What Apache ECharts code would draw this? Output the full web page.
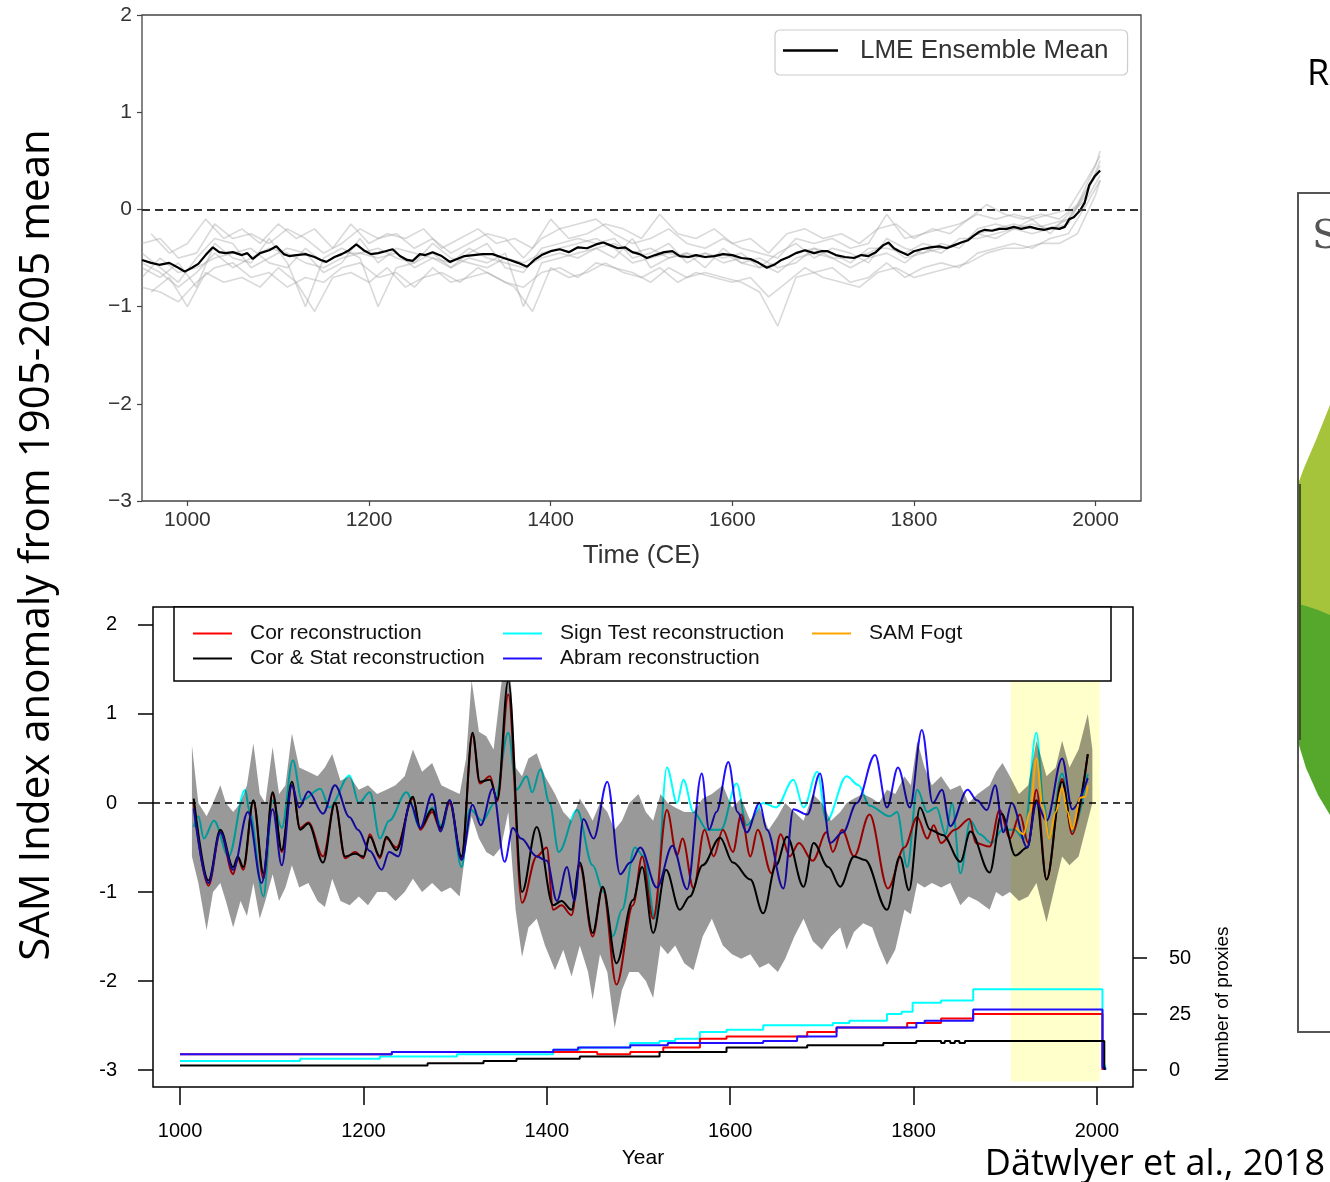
<!DOCTYPE html>
<html><head><meta charset="utf-8">
<script src="https://cdn.jsdelivr.net/npm/echarts@6.0.0/dist/echarts.min.js"></script>
<style>html,body{margin:0;padding:0;background:#fff;}#c{width:1330px;height:1182px;}</style>
</head><body><div id="c"></div>
<script>
// ---------- TOP PANEL: LME ----------
const meanYears = [950,960,969,980,990,997,1005,1012,1020,1028,1035,1042,1050,1060,1066,1072,1080,1090,1098,1106,1112,1120,1130,1140,1147,1153,1162,1170,1178,1186,1194,1202,1210,1218,1226,1234,1242,1248,1256,1262,1270,1280,1289,1297,1305,1315,1325,1336,1345,1355,1364,1374,1382,1390,1400,1410,1420,1430,1440,1450,1458,1466,1474,1482,1490,1498,1506,1515,1525,1534,1542,1552,1560,1570,1580,1590,1600,1610,1620,1629,1638,1646,1654,1662,1670,1680,1690,1698,1705,1714,1724,1734,1742,1750,1758,1766,1772,1778,1784,1793,1800,1808,1818,1828,1836,1844,1852,1859,1866,1872,1878,1886,1894,1902,1910,1918,1928,1936,1944,1952,1960,1966,1971,1976,1983,1988,1993,1999,2005];
const meanVals = [-0.52,-0.55,-0.57,-0.55,-0.60,-0.64,-0.60,-0.56,-0.47,-0.39,-0.44,-0.45,-0.44,-0.47,-0.45,-0.51,-0.45,-0.42,-0.38,-0.46,-0.48,-0.47,-0.46,-0.49,-0.52,-0.54,-0.49,-0.46,-0.42,-0.36,-0.42,-0.46,-0.45,-0.43,-0.41,-0.48,-0.52,-0.53,-0.46,-0.47,-0.44,-0.48,-0.54,-0.51,-0.48,-0.47,-0.46,-0.46,-0.49,-0.52,-0.55,-0.59,-0.52,-0.47,-0.43,-0.41,-0.44,-0.39,-0.40,-0.36,-0.34,-0.37,-0.40,-0.39,-0.44,-0.46,-0.50,-0.47,-0.44,-0.43,-0.48,-0.49,-0.47,-0.49,-0.48,-0.46,-0.47,-0.50,-0.51,-0.55,-0.60,-0.57,-0.52,-0.49,-0.45,-0.42,-0.45,-0.43,-0.43,-0.47,-0.49,-0.50,-0.47,-0.48,-0.44,-0.37,-0.34,-0.40,-0.43,-0.47,-0.43,-0.41,-0.39,-0.38,-0.40,-0.37,-0.34,-0.32,-0.27,-0.23,-0.21,-0.22,-0.20,-0.20,-0.18,-0.20,-0.18,-0.20,-0.21,-0.19,-0.20,-0.18,-0.10,-0.08,-0.01,0.07,0.25,0.34,0.40];

const memberYears = [950,970,990,1010,1030,1050,1070,1090,1110,1130,1150,1170,1190,1210,1230,1250,1270,1290,1310,1330,1350,1370,1390,1410,1430,1450,1470,1490,1510,1530,1550,1570,1590,1610,1630,1650,1670,1690,1710,1730,1750,1770,1790,1810,1830,1850,1870,1890,1910,1930,1950,1970,1990,2005];
const member1 = [-0.35,-0.30,-0.50,-0.45,-0.15,-0.30,-0.25,-0.35,-0.20,-0.30,-0.45,-0.35,-0.20,-0.30,-0.25,-0.40,-0.30,-0.45,-0.35,-0.25,-0.30,-0.50,-0.30,-0.20,-0.15,-0.10,-0.25,-0.35,-0.30,-0.20,-0.35,-0.40,-0.30,-0.40,-0.45,-0.50,-0.30,-0.35,-0.30,-0.40,-0.35,-0.05,-0.30,-0.25,-0.20,-0.15,-0.05,-0.10,-0.05,-0.10,-0.05,0.00,0.30,0.55];
const member2 = [-0.80,-0.85,-0.95,-0.75,-0.60,-0.55,-0.70,-0.65,-0.80,-0.70,-0.75,-0.60,-0.55,-0.70,-0.65,-0.80,-0.60,-0.75,-0.70,-0.65,-0.75,-0.80,-0.65,-0.60,-0.70,-0.55,-0.60,-0.65,-0.75,-0.60,-0.70,-0.65,-0.70,-0.75,-0.85,-1.20,-0.70,-0.65,-0.60,-0.75,-0.70,-0.55,-0.70,-0.60,-0.55,-0.60,-0.45,-0.40,-0.35,-0.40,-0.30,-0.25,0.05,0.30];
const member3 = [-0.60,-0.70,-0.55,-0.80,-0.35,-0.50,-0.55,-0.30,-0.55,-1.00,-0.50,-0.40,-0.50,-1.00,-0.60,-0.55,-0.45,-0.60,-0.50,-0.55,-0.45,-1.00,-0.55,-0.50,-0.45,-0.40,-0.50,-0.30,-0.60,-0.50,-0.45,-0.60,-0.40,-0.55,-0.50,-0.60,-0.55,-0.40,-0.50,-0.60,-0.50,-0.45,-0.55,-0.40,-0.45,-0.30,-0.30,-0.25,-0.20,-0.25,-0.20,-0.15,0.20,0.45];
const member4 = [-0.45,-0.60,-0.75,-0.50,-0.30,-0.35,-0.60,-0.50,-0.40,-0.45,-0.65,-0.55,-0.30,-0.55,-0.40,-0.45,-0.50,-0.60,-0.45,-0.35,-0.60,-0.65,-0.40,-0.35,-0.30,-0.35,-0.30,-0.50,-0.45,-0.35,-0.55,-0.45,-0.50,-0.45,-0.60,-0.45,-0.35,-0.50,-0.40,-0.45,-0.55,-0.30,-0.40,-0.45,-0.35,-0.40,-0.20,-0.15,-0.20,-0.10,-0.25,-0.05,0.10,0.35];
const member5 = [-0.70,-0.50,-0.65,-0.60,-0.50,-0.45,-0.40,-0.55,-0.60,-0.40,-0.55,-0.45,-0.45,-0.40,-0.50,-0.55,-0.35,-0.50,-0.55,-0.60,-0.50,-0.55,-0.45,-0.40,-0.35,-0.30,-0.40,-0.55,-0.50,-0.45,-0.50,-0.45,-0.55,-0.50,-0.55,-0.65,-0.50,-0.45,-0.50,-0.50,-0.45,-0.35,-0.50,-0.45,-0.40,-0.35,-0.25,-0.20,-0.15,-0.20,-0.15,-0.10,0.15,0.50];
const member6 = [-0.55,-0.65,-0.80,-0.65,-0.45,-0.60,-0.50,-0.40,-0.45,-0.55,-0.60,-0.50,-0.45,-0.50,-0.45,-0.60,-0.50,-0.55,-0.40,-0.50,-0.55,-0.60,-0.50,-0.45,-0.50,-0.40,-0.35,-0.45,-0.40,-0.50,-0.45,-0.50,-0.45,-0.55,-0.60,-0.55,-0.45,-0.40,-0.45,-0.55,-0.40,-0.40,-0.45,-0.35,-0.40,-0.35,-0.25,-0.30,-0.20,-0.15,-0.20,-0.10,0.20,0.40];
const memberYearsB = [960,980,1000,1020,1040,1060,1080,1100,1120,1140,1160,1180,1200,1220,1240,1260,1280,1300,1320,1340,1360,1380,1400,1420,1440,1460,1480,1500,1520,1540,1560,1580,1600,1620,1640,1660,1680,1700,1720,1740,1760,1780,1800,1820,1840,1860,1880,1900,1920,1940,1960,1980,2000,2005];
const member7 = [-0.25,-0.45,-0.35,-0.10,-0.30,-0.20,-0.35,-0.15,-0.30,-0.20,-0.40,-0.15,-0.35,-0.25,-0.30,-0.20,-0.40,-0.30,-0.20,-0.35,-0.30,-0.40,-0.10,-0.30,-0.25,-0.15,-0.20,-0.30,-0.05,-0.25,-0.30,-0.20,-0.35,-0.30,-0.45,-0.25,-0.20,-0.30,-0.25,-0.35,-0.20,-0.15,-0.30,-0.20,-0.25,-0.10,0.05,-0.05,-0.10,-0.05,-0.10,0.05,0.45,0.60];
const member8 = [-0.85,-0.70,-1.00,-0.65,-0.75,-0.70,-0.80,-0.60,-0.75,-1.05,-0.70,-0.65,-0.75,-0.60,-0.80,-0.70,-0.65,-0.75,-0.60,-0.70,-0.80,-1.05,-0.60,-0.70,-0.65,-0.55,-0.65,-0.70,-0.60,-0.75,-0.65,-0.70,-0.75,-0.70,-0.90,-0.75,-0.60,-0.70,-0.75,-0.80,-0.65,-0.60,-0.70,-0.65,-0.60,-0.55,-0.45,-0.40,-0.40,-0.35,-0.35,-0.25,0.15,0.30];

const topXTicks = [1000,1200,1400,1600,1800,2000];

// ---------- BOTTOM PANEL: reconstructions ----------
const corStatYears = [1015,1031,1044,1058,1063,1069,1080,1091,1101,1111,1122,1131,1140,1156,1169,1180,1191,1200,1207,1218,1225,1236,1254,1262,1275,1284,1294,1307,1319,1327,1338,1346,1358,1373,1389,1407,1416,1427,1436,1450,1461,1476,1494,1504,1516,1530,1545,1556,1570,1589,1603,1622,1636,1650,1662,1680,1691,1707,1720,1735,1747,1771,1785,1795,1807,1818,1832,1851,1862,1883,1896,1911,1924,1934,1945,1962,1973,1990];
const corStatVals = [0.05,-0.87,-0.30,-0.72,-0.60,-0.72,0.03,-0.79,0.12,-0.53,0.24,-0.30,-0.23,-0.67,0.00,-0.60,-0.57,-0.60,-0.38,-0.60,-0.38,-0.53,0.07,-0.28,-0.07,-0.28,0.03,-0.60,0.79,0.24,0.26,0.04,1.38,-1.00,-0.27,-1.15,-1.10,-1.20,-0.67,-1.46,-0.94,-1.80,-1.09,-0.72,-1.46,-0.75,-1.20,-1.05,-0.70,-0.39,-0.67,-0.86,-1.24,-0.70,-0.38,-0.94,-0.45,-0.72,-0.94,-0.60,-0.64,-1.20,-0.60,-0.98,-0.05,-0.30,-0.36,-0.66,-0.32,-0.78,-0.12,-0.59,-0.50,0.03,-0.86,0.24,-0.30,0.55];

const corYears = [1015,1031,1044,1058,1063,1069,1080,1091,1101,1111,1122,1131,1140,1156,1169,1180,1191,1200,1207,1218,1225,1236,1254,1262,1275,1284,1294,1307,1319,1327,1338,1346,1358,1373,1389,1400,1407,1416,1427,1436,1450,1461,1476,1494,1504,1516,1531,1542,1548,1560,1572,1582,1592,1603,1612,1622,1630,1645,1655,1665,1675,1690,1705,1712,1722,1735,1752,1772,1790,1804,1815,1822,1830,1845,1861,1868,1883,1894,1905,1916,1925,1934,1945,1962,1973,1990];
const corVals = [0.00,-0.93,-0.33,-0.80,-0.62,-0.75,0.02,-0.85,0.10,-0.55,0.20,-0.28,-0.22,-0.60,0.00,-0.62,-0.55,-0.62,-0.35,-0.62,-0.40,-0.50,0.05,-0.30,-0.10,-0.30,0.00,-0.62,0.76,0.22,0.30,0.02,1.22,-1.12,-0.60,-0.50,-1.20,-1.15,-1.26,-0.70,-1.50,-0.95,-2.04,-1.15,-0.60,-1.30,-0.08,-0.59,-0.40,-0.96,-0.30,-0.60,-0.30,-0.55,-0.13,-0.60,-0.30,-0.79,-0.35,-0.60,-0.45,-0.65,-0.33,-0.55,-0.30,-0.60,-0.13,-0.96,-0.50,-0.16,-0.40,-0.25,-0.45,-0.30,-0.18,-0.45,-0.49,-0.08,-0.40,-0.13,-0.45,0.15,-0.86,0.27,-0.35,0.55];

const signYears = [1015,1020,1026,1037,1053,1071,1076,1091,1101,1111,1123,1133,1153,1163,1185,1195,1207,1218,1228,1247,1262,1275,1286,1294,1307,1316,1330,1343,1358,1367,1378,1384,1393,1403,1413,1433,1450,1462,1472,1482,1496,1506,1518,1531,1542,1549,1560,1575,1590,1607,1618,1636,1650,1669,1680,1695,1705,1727,1740,1752,1774,1782,1793,1804,1815,1825,1835,1842,1851,1862,1872,1885,1897,1910,1920,1934,1942,1948,1962,1973,1990];
const signVals = [-0.27,-0.15,-0.40,-0.20,-0.60,0.15,-0.10,-1.05,0.03,-0.28,0.48,0.03,0.16,-0.05,0.31,0.00,0.12,-0.40,-0.20,0.12,-0.28,-0.05,-0.28,0.03,-0.72,-0.07,-0.20,0.00,0.79,0.15,0.30,0.12,0.38,0.00,-0.55,-0.08,-0.70,-1.00,-1.50,-1.20,-0.50,-0.60,-1.30,0.40,0.00,0.26,-0.10,-0.30,-0.30,0.22,-0.25,0.00,-0.05,0.26,-0.05,0.35,-0.20,0.30,0.20,-0.03,-0.15,-0.10,-0.72,0.15,-0.10,-0.05,-0.35,0.00,-0.79,-0.20,-0.35,-0.45,-0.30,-0.30,-0.40,0.79,0.00,-0.40,0.33,-0.32,0.33];

const abramYears = [1015,1031,1044,1058,1074,1089,1101,1111,1122,1130,1140,1156,1169,1185,1194,1207,1220,1228,1238,1251,1262,1275,1284,1294,1307,1319,1328,1341,1354,1363,1372,1389,1400,1411,1422,1430,1440,1451,1466,1480,1491,1502,1520,1537,1553,1569,1577,1585,1598,1608,1618,1632,1640,1658,1669,1684,1698,1709,1723,1738,1758,1771,1783,1796,1809,1821,1831,1840,1859,1869,1880,1889,1898,1907,1924,1934,1945,1962,1973,1990];
const abramVals = [-0.06,-0.90,-0.33,-0.75,-0.10,-0.90,-0.07,-0.70,0.20,-0.05,0.13,-0.12,0.20,-0.16,-0.30,-0.54,-0.75,-0.55,-0.60,0.00,-0.28,0.10,-0.32,0.03,-0.64,-0.02,-0.25,0.16,-0.66,-0.28,-0.40,-0.60,-0.65,-1.10,-0.72,-1.10,-0.18,-0.40,0.24,-0.80,-0.67,-0.50,-0.95,-0.48,-0.97,0.33,-0.30,-0.10,0.46,-0.10,-0.33,0.00,-0.30,-0.96,-0.07,-0.13,0.33,-0.45,-0.33,0.00,0.54,-0.05,0.40,-0.05,0.82,0.00,0.15,-0.26,0.15,0.03,-0.08,0.20,-0.33,0.00,-0.50,0.00,-0.20,0.50,-0.07,0.28];

const fogtYears = [1912,1920,1927,1934,1941,1948,1955,1962,1968,1973,1982,1987,1990];
const fogtVals = [-0.28,-0.35,-0.10,0.50,-0.05,-0.40,-0.10,0.17,-0.10,-0.30,0.06,0.07,0.20];

// uncertainty envelope (grey shading)
const bandYears = [1013,1020,1029,1036,1044,1050,1058,1066,1073,1080,1087,1093,1101,1108,1115,1122,1130,1140,1150,1158,1166,1175,1185,1195,1205,1215,1225,1235,1245,1254,1264,1275,1285,1295,1305,1312,1318,1326,1334,1342,1350,1358,1366,1373,1380,1389,1398,1409,1418,1427,1436,1445,1450,1458,1466,1474,1482,1490,1500,1508,1516,1524,1532,1540,1550,1560,1570,1580,1592,1602,1612,1622,1632,1642,1652,1660,1670,1680,1690,1700,1710,1720,1727,1735,1745,1755,1762,1771,1780,1790,1797,1804,1812,1820,1830,1840,1851,1860,1870,1883,1890,1897,1905,1915,1925,1934,1945,1955,1962,1970,1980,1990,1995];
const bandUpper = [0.65,0.00,-0.15,0.00,0.20,0.00,-0.10,0.00,0.20,0.67,0.10,0.00,0.63,0.10,0.20,0.78,0.40,0.35,0.30,0.40,0.55,0.25,0.30,0.15,0.20,0.10,0.15,0.20,0.30,0.60,0.35,0.45,0.20,0.15,0.10,0.50,1.38,0.80,0.75,0.60,1.30,1.90,0.40,0.30,0.50,0.56,0.30,0.10,-0.10,-0.20,0.05,-0.10,-0.20,0.00,-0.10,-0.30,-0.20,0.00,0.10,-0.10,-0.20,0.10,0.00,-0.05,-0.10,-0.10,0.05,0.10,0.20,-0.05,0.05,-0.20,-0.05,-0.30,-0.15,0.00,-0.10,-0.20,0.10,0.00,-0.20,-0.10,0.00,0.05,0.10,0.05,0.00,0.15,0.10,0.30,0.20,0.70,0.40,0.20,0.30,0.15,0.20,0.00,0.10,0.20,0.35,0.45,0.30,0.10,0.20,0.70,0.30,0.40,0.70,0.40,0.60,1.00,0.60];
const bandLower = [-0.60,-0.90,-1.43,-1.00,-0.90,-1.10,-1.40,-1.10,-1.27,-0.90,-1.30,-1.10,-0.80,-1.10,-0.95,-0.70,-0.95,-0.90,-1.10,-1.17,-0.85,-1.10,-1.15,-1.05,-1.15,-1.00,-1.00,-1.10,-1.00,-0.85,-1.00,-0.90,-1.00,-0.95,-1.05,-0.50,-0.15,-0.40,-0.55,-0.60,-0.50,-0.10,-1.20,-1.73,-1.40,-1.30,-1.60,-1.88,-1.65,-1.95,-1.60,-1.90,-2.21,-1.70,-1.90,-2.53,-2.10,-1.90,-1.90,-2.00,-2.19,-1.60,-1.70,-1.60,-1.80,-1.88,-1.50,-1.30,-1.60,-1.70,-1.75,-1.70,-1.85,-1.80,-1.90,-1.75,-1.50,-1.30,-1.55,-1.65,-1.50,-1.40,-1.65,-1.45,-1.35,-1.40,-1.60,-1.82,-1.65,-1.20,-1.25,-0.90,-0.95,-0.90,-0.95,-0.90,-1.15,-1.05,-1.10,-1.20,-1.00,-1.05,-1.00,-1.10,-1.05,-0.90,-1.34,-0.90,-0.60,-0.70,-0.60,-0.20,0.00];

// number of proxies (step series)
const nCorStatYears = [1000,1270,1331,1367,1436,1502,1523,1596,1684,1767,1803,1830,1834,1840,1845,1850,1856,1862,2005,2008];
const nCorStatVals = [2,3,4,5,6,6,8,10,11,12,13,12,13,12,13,12,13,13,13,0];
const nCorYears = [1000,1231,1455,1491,1527,1567,1596,1684,1716,1793,1830,1865,2006];
const nCorVals = [7,8,7,8,10,14,15,17,19,21,23,25,0];
const nSignYears = [1000,1131,1218,1302,1407,1436,1491,1523,1540,1567,1596,1636,1712,1730,1771,1787,1799,1830,1865,2006,2009];
const nSignVals = [4,5,6,7,9,10,12,13,14,17,18,20,21,22,25,26,30,31,36,2,0];
const nAbramYears = [1000,1231,1407,1434,1491,1532,1636,1673,1716,1803,1812,1865,2006,2009];
const nAbramVals = [7,8,9,10,11,12,13,15,19,21,22,27,1,0];

const botXTicks = [1000,1200,1400,1600,1800,2000];
const botYTicks = [-3,-2,-1,0,1,2];
const calibration = [1906, 2003];

// ---------- helpers ----------
const zip = (xs, ys) => xs.map((x, i) => [x, ys[i]]);
const ARIAL = "'Liberation Sans', Arial, sans-serif";
const plain = v => String(v);

const chart = echarts.init(document.getElementById('c'), null, {renderer: 'canvas'});

const memberSets = [[memberYears, member1], [memberYears, member2], [memberYears, member3], [memberYears, member4],
  [memberYears, member5], [memberYears, member6], [memberYearsB, member7], [memberYearsB, member8]];
const memberSeries = memberSets.map((m, k) => ({
  name: 'LME member ' + (k + 1), type: 'line', xAxisIndex: 0, yAxisIndex: 0,
  data: zip(m[0], m[1]), showSymbol: false, silent: true, z: 1,
  lineStyle: {color: 'rgba(165,165,165,0.42)', width: 1.6}
}));

function recon(name, years, vals, color, z) {
  return {
    name, type: 'line', xAxisIndex: 1, yAxisIndex: 1, data: zip(years, vals),
    showSymbol: false, smooth: 0.35, smoothMonotone: 'x', color, z,
    lineStyle: {color, width: 2}
  };
}
function prox(name, years, vals, color) {
  return {
    name, type: 'line', xAxisIndex: 2, yAxisIndex: 2, data: zip(years, vals),
    step: 'end', showSymbol: false, silent: true, color, z: 2,
    lineStyle: {color, width: 2}
  };
}

const option = {
  animation: false,
  backgroundColor: '#fff',
  grid: [
    {left: 142, top: 15, width: 999, height: 486, show: true, borderColor: '#444', borderWidth: 1.3, backgroundColor: 'transparent'},
    {left: 153, top: 607, width: 980, height: 480, show: true, borderColor: '#000', borderWidth: 1.5, backgroundColor: 'transparent'},
    {left: 153, top: 958, width: 980, height: 112, show: false}
  ],
  xAxis: [
    {gridIndex: 0, type: 'value', min: 950, max: 2050, splitLine: {show: false},
     axisLine: {show: false, onZero: false},
     axisTick: {show: true, customValues: topXTicks, length: 5, lineStyle: {color: '#444', width: 1.2}},
     axisLabel: {customValues: topXTicks, formatter: plain, fontSize: 21, color: '#333', margin: 9, fontFamily: ARIAL},
     name: 'Time (CE)', nameLocation: 'middle', nameGap: 42,
     nameTextStyle: {fontSize: 26, color: '#333', fontFamily: ARIAL}},
    {gridIndex: 1, type: 'value', min: 970.55, max: 2039.3, splitLine: {show: false},
     axisLine: {show: false, onZero: false},
     axisTick: {show: true, customValues: botXTicks, length: 18, lineStyle: {color: '#000', width: 1.5}},
     axisLabel: {customValues: botXTicks, formatter: plain, fontSize: 20, color: '#000', margin: 34, fontFamily: ARIAL},
     name: 'Year', nameLocation: 'middle', nameGap: 61,
     nameTextStyle: {fontSize: 21, color: '#000', fontFamily: ARIAL}},
    {gridIndex: 2, type: 'value', min: 970.55, max: 2039.3, show: false, axisLine: {onZero: false}}
  ],
  yAxis: [
    {gridIndex: 0, type: 'value', min: -3, max: 2, interval: 1, splitLine: {show: false},
     axisLine: {show: false, onZero: false},
     axisTick: {show: true, length: 5, lineStyle: {color: '#444', width: 1.2}},
     axisLabel: {fontSize: 21, color: '#333', margin: 10, fontFamily: ARIAL,
       formatter: v => (v < 0 ? '\u2212' + Math.abs(v) : String(v))}},
    {gridIndex: 1, type: 'value', min: -3.191, max: 2.202, splitLine: {show: false},
     axisLine: {show: false, onZero: false},
     axisTick: {show: true, customValues: botYTicks, length: 15, lineStyle: {color: '#000', width: 1.5}},
     axisLabel: {customValues: botYTicks, formatter: plain, fontSize: 20, color: '#000', margin: 36, fontFamily: ARIAL}},
    {gridIndex: 2, type: 'value', min: 0, max: 50, interval: 25, position: 'right', splitLine: {show: false},
     axisLine: {show: false, onZero: false},
     axisTick: {show: true, length: 14, lineStyle: {color: '#000', width: 1.5}},
     axisLabel: {fontSize: 20, color: '#000', margin: 36, fontFamily: ARIAL},
     name: 'Number of proxies', nameLocation: 'middle', nameRotate: 90, nameGap: 80,
     nameTextStyle: {fontSize: 19, color: '#000', fontFamily: "'Liberation Sans Narrow', 'Liberation Sans', Arial", padding: [0, 0, 0, 20]}}
  ],
  legend: [
    {data: ['LME Ensemble Mean'], left: 775, top: 30, selectedMode: false, icon: 'rect',
     itemWidth: 55, itemHeight: 2.5, padding: [6, 19, 10, 8], z: 20,
     backgroundColor: '#fff', borderColor: '#ccc', borderWidth: 1.2, borderRadius: 5,
     textStyle: {fontSize: 26, color: '#333', fontFamily: ARIAL, lineHeight: 29, padding: [0, 0, 0, 17]}},
    {data: ['Cor reconstruction', 'Cor & Stat reconstruction'], left: 193, top: 623, orient: 'vertical',
     selectedMode: false, icon: 'rect', itemWidth: 39, itemHeight: 2, itemGap: 4, padding: 0, z: 20,
     textStyle: {fontSize: 21, color: '#111', fontFamily: ARIAL, lineHeight: 21, padding: [0, 0, 0, 13]}},
    {data: ['Sign Test reconstruction', 'Abram reconstruction'], left: 503, top: 623, orient: 'vertical',
     selectedMode: false, icon: 'rect', itemWidth: 39, itemHeight: 2, itemGap: 4, padding: 0, z: 20,
     textStyle: {fontSize: 21, color: '#111', fontFamily: ARIAL, lineHeight: 21, padding: [0, 0, 0, 13]}},
    {data: ['SAM Fogt'], left: 812, top: 623, orient: 'vertical',
     selectedMode: false, icon: 'rect', itemWidth: 39, itemHeight: 2, itemGap: 4, padding: 0, z: 20,
     textStyle: {fontSize: 21, color: '#111', fontFamily: ARIAL, lineHeight: 21, padding: [0, 0, 0, 13]}}
  ],
  graphic: {elements: [
    {type: 'rect', z: 10, silent: true, shape: {x: 174, y: 607, width: 937, height: 74},
     style: {fill: '#fff', stroke: '#000', lineWidth: 1.5}},
    {type: 'text', z: 10, silent: true, x: 37, y: 545, rotation: Math.PI / 2,
     style: {text: 'SAM Index anomaly from 1905-2005 mean', fontSize: 42, fontFamily: "'Open Sans', sans-serif",
       fill: '#000', align: 'center', verticalAlign: 'middle'}},
    {type: 'text', z: 10, silent: true, x: 1325, y: 1165,
     style: {text: 'Dätwlyer et al., 2018', fontSize: 36, fontFamily: "'Open Sans', sans-serif",
       fill: '#000', align: 'right', verticalAlign: 'middle'}},
    {type: 'text', z: 10, silent: true, x: 1307, y: 75,
     style: {text: 'R', fontSize: 36, fontFamily: "'Open Sans', sans-serif", fill: '#000', align: 'left', verticalAlign: 'middle'}},
    {type: 'polygon', z: 9, silent: true, shape: {points: [[1330, 405], [1316, 440], [1304, 468], [1298, 484], [1298, 612], [1330, 618]]},
     style: {fill: '#a5c43b'}},
    {type: 'polygon', z: 9, silent: true, shape: {points: [[1298, 604], [1306, 606], [1318, 610], [1330, 615], [1330, 815], [1318, 795], [1306, 768], [1298, 742]]},
     style: {fill: '#55a82c'}},
    {type: 'rect', z: 9, silent: true, shape: {x: 1298, y: 484, width: 3, height: 256}, style: {fill: '#3c5a14'}},
    {type: 'rect', z: 10, silent: true, shape: {x: 1298, y: 193, width: 40, height: 839},
     style: {fill: 'none', stroke: '#555', lineWidth: 2}},
    {type: 'text', z: 10, silent: true, x: 1312, y: 238,
     style: {text: 'S', fontSize: 40, fontFamily: "'DejaVu Serif', 'Liberation Serif', serif", fill: '#555', align: 'left', verticalAlign: 'middle'}}
  ]},
  series: [
    ...memberSeries,
    {name: 'LME Ensemble Mean', type: 'line', xAxisIndex: 0, yAxisIndex: 0, data: zip(meanYears, meanVals),
     showSymbol: false, color: '#000', z: 3, lineStyle: {color: '#000', width: 2.2},
     markLine: {silent: true, symbol: ['none', 'none'], label: {show: false},
       lineStyle: {color: '#333', type: [8, 5], width: 2.2}, data: [{yAxis: 0}]}},
    {name: 'Calibration period', type: 'line', xAxisIndex: 1, yAxisIndex: 1,
     data: zip(calibration, [0, 0]), showSymbol: false, silent: true, z: 0,
     lineStyle: {opacity: 0},
     markArea: {silent: true, itemStyle: {color: '#ffffcc'},
       data: [[{xAxis: calibration[0], yAxis: -3.13}, {xAxis: calibration[1], yAxis: 2.2}]]}},
    prox('Sign Test proxies', nSignYears, nSignVals, '#00ffff'),
    prox('Cor proxies', nCorYears, nCorVals, '#ff0000'),
    prox('Abram proxies', nAbramYears, nAbramVals, '#2010ff'),
    prox('Cor & Stat proxies', nCorStatYears, nCorStatVals, '#000000'),
    recon('Sign Test reconstruction', signYears, signVals, '#00ffff', 2),
    recon('Cor reconstruction', corYears, corVals, '#ff0000', 2),
    recon('Cor & Stat reconstruction', corStatYears, corStatVals, '#000000', 2),
    recon('Abram reconstruction', abramYears, abramVals, '#2010ff', 2),
    {name: 'Uncertainty range', type: 'custom', xAxisIndex: 1, yAxisIndex: 1, z: 3, silent: true,
     data: [[bandYears[0], bandUpper[0]]],
     renderItem: function (params, api) {
       const pts = [];
       for (let i = 0; i < bandYears.length; i++) pts.push(api.coord([bandYears[i], bandUpper[i]]));
       for (let i = bandYears.length - 1; i >= 0; i--) pts.push(api.coord([bandYears[i], bandLower[i]]));
       return {type: 'polygon', shape: {points: pts}, style: {fill: 'rgba(0,0,0,0.4)'}};
     }},
    Object.assign(recon('SAM Fogt', fogtYears, fogtVals, '#ffa500', 4), {
      markLine: {silent: true, symbol: ['none', 'none'], label: {show: false},
        lineStyle: {color: '#000', type: [7, 5], width: 1.5}, data: [{yAxis: 0}]}
    })
  ]
};
chart.setOption(option);
</script></body></html>
